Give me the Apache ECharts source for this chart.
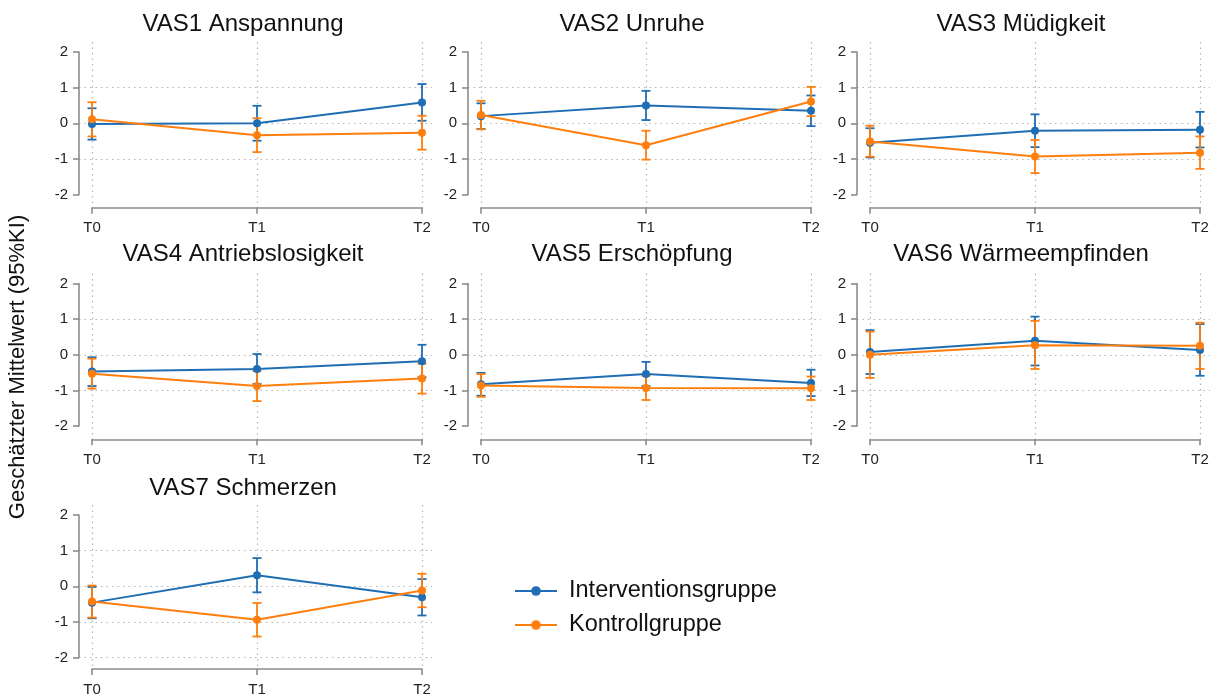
<!DOCTYPE html>
<html>
<head>
<meta charset="utf-8">
<script src="https://cdn.jsdelivr.net/npm/echarts@6/dist/echarts.min.js"></script>
<style>
html,body{margin:0;padding:0;background:#fff;}
#chart{width:1214px;height:697px;}
</style>
</head>
<body>
<div id="chart"></div>
<script>
// ---- data ----
const timepoints = ['T0', 'T1', 'T2'];
const yTicks = [-2, -1, 0, 1, 2];
const panelTitles = ['VAS1 Anspannung', 'VAS2 Unruhe', 'VAS3 Müdigkeit', 'VAS4 Antriebslosigkeit', 'VAS5 Erschöpfung', 'VAS6 Wärmeempfinden', 'VAS7 Schmerzen'];
const groupNames = ['Interventionsgruppe', 'Kontrollgruppe'];
const yAxisTitle = 'Geschätzter Mittelwert (95%KI)';

// Interventionsgruppe: mean, lower, upper (per panel, T0..T2)
const ivMean = [
  [-0.02, 0.00, 0.58],
  [0.20, 0.50, 0.35],
  [-0.55, -0.21, -0.18],
  [-0.47, -0.40, -0.18],
  [-0.83, -0.54, -0.79],
  [0.08, 0.39, 0.13],
  [-0.46, 0.31, -0.31]
];
const ivLow = [
  [-0.46, -0.49, 0.07],
  [-0.16, 0.09, -0.08],
  [-0.96, -0.67, -0.68],
  [-0.88, -0.82, -0.63],
  [-1.15, -0.88, -1.16],
  [-0.54, -0.30, -0.59],
  [-0.90, -0.17, -0.82]
];
const ivHigh = [
  [0.42, 0.49, 1.10],
  [0.56, 0.91, 0.78],
  [-0.14, 0.25, 0.32],
  [-0.07, 0.02, 0.28],
  [-0.51, -0.20, -0.42],
  [0.69, 1.07, 0.86],
  [-0.02, 0.79, 0.20]
];
// Kontrollgruppe
const kgMean = [
  [0.11, -0.34, -0.27],
  [0.23, -0.62, 0.61],
  [-0.51, -0.93, -0.83],
  [-0.53, -0.88, -0.67],
  [-0.86, -0.93, -0.94],
  [0.00, 0.27, 0.25],
  [-0.43, -0.94, -0.12]
];
const kgLow = [
  [-0.37, -0.81, -0.74],
  [-0.17, -1.02, 0.20],
  [-0.94, -1.40, -1.28],
  [-0.95, -1.30, -1.09],
  [-1.18, -1.27, -1.27],
  [-0.65, -0.40, -0.40],
  [-0.88, -1.41, -0.59]
];
const kgHigh = [
  [0.59, 0.14, 0.21],
  [0.63, -0.21, 1.02],
  [-0.07, -0.47, -0.37],
  [-0.11, -0.46, -0.25],
  [-0.54, -0.59, -0.61],
  [0.65, 0.95, 0.90],
  [0.02, -0.47, 0.35]
];

// ---- layout / style ----
const FONT = 'Liberation Sans, Arial, Helvetica, sans-serif';
const BLUE = '#1f6eb4';
const ORANGE = '#ff7f0e';
const AXIS = '#8c8c8c';
const GRIDC = '#b4b4b4';
const colT0 = [92, 481, 870];
const plotW = 330;
const yAxisGap = 13;
const rowTop = [52, 283.5, 515];
const plotH = 142.5;
const xAxisGap = 13.3;
const topExt = 10;
const rightExt = 10;
const titleCenter = [238, 627, 1016];
const titleTop = [7, 237, 471];

const grids = [], xAxes = [], yAxes = [], series = [], titles = [];

function errSeries(idx, name, low, high, color) {
  return {
    type: 'custom', name: name, xAxisIndex: idx, yAxisIndex: idx, z: 2,
    data: timepoints.map((t, k) => [k, low[k], high[k]]),
    encode: { x: 0, y: [1, 2] },
    renderItem: function (params, api) {
      const x = api.value(0);
      const lo = api.coord([x, api.value(1)]);
      const hi = api.coord([x, api.value(2)]);
      const cw = 4.5;
      const st = { stroke: color, lineWidth: 1.8 };
      return {
        type: 'group', children: [
          { type: 'line', shape: { x1: lo[0], y1: lo[1], x2: hi[0], y2: hi[1] }, style: st },
          { type: 'line', shape: { x1: hi[0] - cw, y1: hi[1], x2: hi[0] + cw, y2: hi[1] }, style: st },
          { type: 'line', shape: { x1: lo[0] - cw, y1: lo[1], x2: lo[0] + cw, y2: lo[1] }, style: st }
        ]
      };
    }
  };
}

panelTitles.forEach((title, i) => {
  const r = Math.floor(i / 3), c = i % 3;
  const t0 = colT0[c], top = rowTop[r];
  const base = grids.length;
  grids.push({ left: t0 - yAxisGap, top: top, width: plotW + yAxisGap + rightExt, height: plotH });
  grids.push({ left: t0, top: top - topExt, width: plotW, height: plotH + topExt + xAxisGap });
  grids.push({ left: t0, top: top, width: plotW, height: plotH });

  xAxes.push({ gridIndex: base, type: 'value', min: 0, max: 1, show: false });
  yAxes.push({
    gridIndex: base, type: 'value', min: yTicks[0], max: yTicks[yTicks.length - 1], interval: 1,
    axisLine: { show: true, lineStyle: { color: AXIS, width: 1.6 } },
    axisTick: { show: true, length: 6, lineStyle: { color: AXIS, width: 1.6 } },
    axisLabel: { margin: 11, fontSize: 15, color: '#222', fontFamily: FONT },
    splitLine: { show: true, showMinLine: i === 6, showMaxLine: false, lineStyle: { color: GRIDC, type: [1.5, 4], width: 1.2 } }
  });

  xAxes.push({
    gridIndex: base + 1, type: 'category', data: timepoints, boundaryGap: false,
    axisLine: { show: true, onZero: false, lineStyle: { color: AXIS, width: 1.6 } },
    axisTick: { show: true, length: 6, lineStyle: { color: AXIS, width: 1.6 } },
    axisLabel: { margin: 13, fontSize: 15, color: '#222', fontFamily: FONT },
    splitLine: { show: true, lineStyle: { color: GRIDC, type: [1.5, 4], width: 1.2 } }
  });
  yAxes.push({ gridIndex: base + 1, type: 'value', min: 0, max: 1, show: false });

  xAxes.push({ gridIndex: base + 2, type: 'category', data: timepoints, boundaryGap: false, show: false });
  yAxes.push({ gridIndex: base + 2, type: 'value', min: yTicks[0], max: yTicks[yTicks.length - 1], show: false });

  const d = base + 2;
  series.push(errSeries(d, 'ci_iv', ivLow[i], ivHigh[i], BLUE));
  series.push(errSeries(d, 'ci_kg', kgLow[i], kgHigh[i], ORANGE));
  series.push({
    type: 'line', name: groupNames[0], xAxisIndex: d, yAxisIndex: d, z: 3,
    data: ivMean[i], symbol: 'circle', symbolSize: 8, showSymbol: true,
    lineStyle: { color: BLUE, width: 2 }, itemStyle: { color: BLUE }, animation: false
  });
  series.push({
    type: 'line', name: groupNames[1], xAxisIndex: d, yAxisIndex: d, z: 4,
    data: kgMean[i], symbol: 'circle', symbolSize: 8, showSymbol: true,
    lineStyle: { color: ORANGE, width: 2 }, itemStyle: { color: ORANGE }, animation: false
  });

  titles.push({
    text: title, left: titleCenter[c], top: titleTop[r], textAlign: 'center',
    textStyle: { fontSize: 24, fontWeight: 'normal', color: '#111', fontFamily: FONT }
  });
});

const chart = echarts.init(document.getElementById('chart'), null, { renderer: 'canvas' });
chart.setOption({
  backgroundColor: '#fff',
  animation: false,
  title: titles,
  grid: grids,
  xAxis: xAxes,
  yAxis: yAxes,
  series: series,
  legend: {
    data: groupNames, orient: 'vertical', left: 509, top: 574,
    itemWidth: 42, itemHeight: 12, itemGap: 10,
    textStyle: { fontSize: 23.5, color: '#111', fontFamily: FONT, padding: [0, 0, 0, 7] }
  },
  graphic: [{
    type: 'text', x: 18, y: 367, rotation: Math.PI / 2,
    style: { text: yAxisTitle, font: '22px ' + FONT, fill: '#111', textAlign: 'center', textVerticalAlign: 'middle' }
  }]
});
</script>
</body>
</html>
